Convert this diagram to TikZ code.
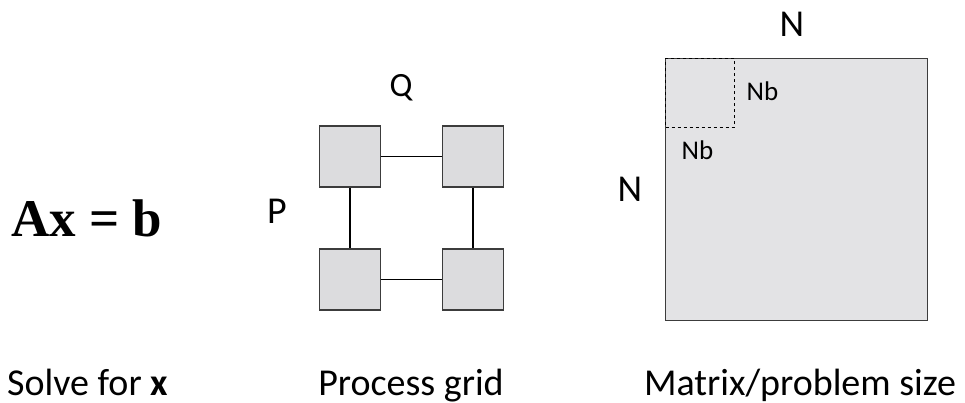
\documentclass[tikz,border=0pt]{standalone}
\usepackage{fontspec}
\setmainfont{Carlito}
\newfontfamily\serifbold{Liberation Serif}
\begin{document}
\begin{tikzpicture}[x=1pt,y=-1pt]
\definecolor{boxgray}{RGB}{220,220,222}
\definecolor{matgray}{RGB}{227,227,229}
\definecolor{edgegray}{RGB}{60,60,60}
\tikzset{
  proc/.style={draw=edgegray,fill=boxgray,line width=1.3pt,minimum width=61pt,minimum height=61pt,inner sep=0pt},
  link/.style={draw=black,line width=1.2pt},
  biglbl/.style={font=\fontsize{38}{42}\selectfont,anchor=base},
  dimlbl/.style={font=\fontsize{38}{42}\selectfont},
  nblbl/.style={font=\fontsize{27}{30}\selectfont}
}
\useasboundingbox (0,0) rectangle (965,403);
% equation
\node[font=\serifbold\bfseries\fontsize{53}{58}\selectfont,anchor=base] (eq) at (86.5,236.7) {Ax = b};
% process grid
\node[proc] (p11) at (350,156.5) {};
\node[proc] (p12) at (473,156.5) {};
\node[proc] (p21) at (350,279.5) {};
\node[proc] (p22) at (473,279.5) {};
\draw[link] (p11) -- (p12);
\draw[link] (p21) -- (p22);
\draw[link] (p11) -- (p21);
\draw[link] (p12) -- (p22);
\node[font=\fontsize{34}{38}\selectfont] (q) at (401,88) {Q};
\node[dimlbl] (p) at (277,211) {P};
% matrix
\node[draw=edgegray,fill=matgray,line width=1.3pt,minimum width=262pt,minimum height=262.4pt,inner sep=0pt] (mat) at (796.7,189.5) {};
\node[draw=black,dashed,line width=0.9pt,minimum width=69pt,minimum height=68.7pt,inner sep=0pt] (blk) at (700.2,92.7) {};
\node[dimlbl] (ntop) at (792,24.5) {N};
\node[dimlbl] (nleft) at (630,189) {N};
\node[nblbl] (nb1) at (762.5,91.5) {Nb};
\node[nblbl] (nb2) at (697.5,150) {Nb};
% captions
\node[biglbl] (c1) at (87.5,395) {Solve for \textbf{x}};
\node[biglbl] (c2) at (411,395) {Process grid};
\node[biglbl] (c3) at (800,395) {Matrix/problem size};
\end{tikzpicture}
\end{document}
